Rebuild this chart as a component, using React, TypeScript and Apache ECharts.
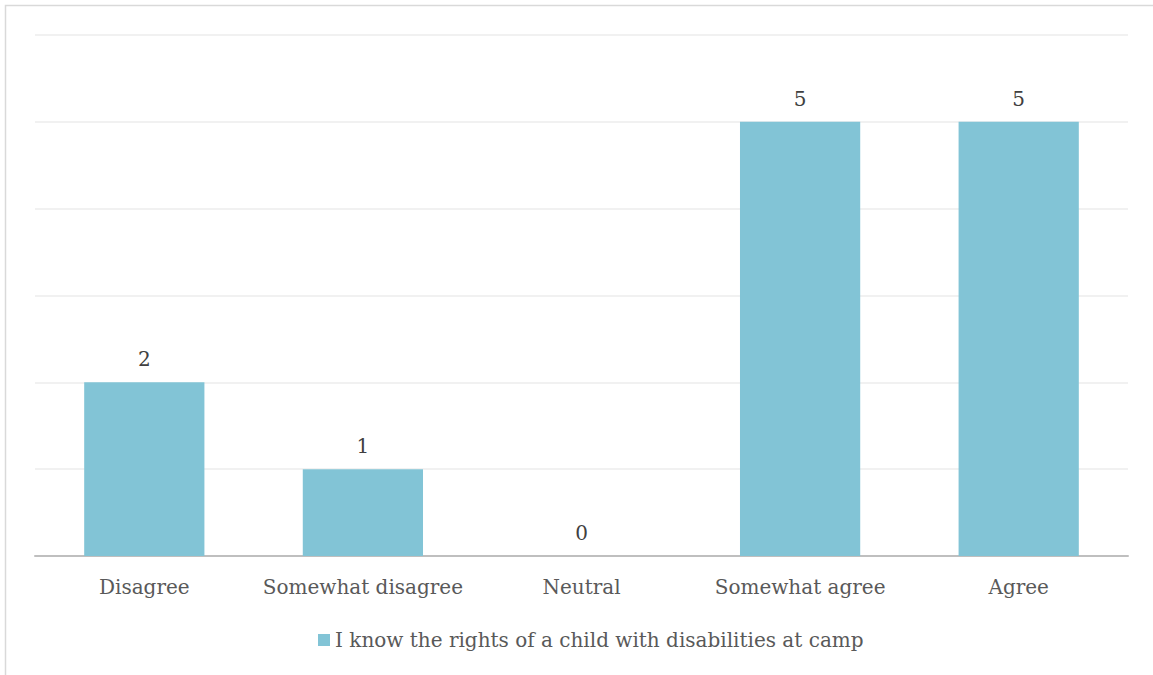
import React, { useEffect, useRef } from "react";
import * as echarts from "echarts";

const categories = ["Disagree", "Somewhat disagree", "Neutral", "Somewhat agree", "Agree"];
const values = [2, 1, 0, 5, 5];
const seriesName = "I know the rights of a child with disabilities at camp";

const FONT = "'DejaVu Serif', serif";

export default function App() {
  const ref = useRef<HTMLDivElement>(null);
  useEffect(() => {
    if (!ref.current) return;
    const chart = echarts.init(ref.current, null, { renderer: "svg" });
    chart.setOption({
      animation: false,
      backgroundColor: "#ffffff",
      textStyle: { fontFamily: FONT },
      graphic: [
        {
          type: "rect",
          shape: { x: 5.5, y: 5.5, width: 1200, height: 700 },
          style: { fill: "none", stroke: "#d9d9d9", lineWidth: 1.5 },
          silent: true,
        },
      ],
      grid: { left: 35, right: 25, top: 35, bottom: 119, containLabel: false },
      legend: {
        bottom: 20,
        left: 313,
        itemWidth: 12,
        itemHeight: 12,
        icon: "rect",
        itemGap: 6,
        textStyle: { color: "#595959", fontSize: 20, fontFamily: FONT },
        data: [seriesName],
      },
      xAxis: {
        type: "category",
        data: categories,
        axisLine: { lineStyle: { color: "#bfbfbf", width: 2 } },
        axisTick: { show: false },
        axisLabel: { color: "#595959", fontSize: 20, margin: 21, interval: 0, fontFamily: FONT },
      },
      yAxis: {
        type: "value",
        min: 0,
        max: 6,
        interval: 1,
        axisLabel: { show: false },
        axisLine: { show: false },
        axisTick: { show: false },
        splitLine: { lineStyle: { color: "#ececec", width: 1.5 } },
      },
      series: [
        {
          name: seriesName,
          type: "bar",
          data: values,
          barWidth: "55%",
          itemStyle: { color: "#82c4d6" },
          label: {
            show: true,
            position: "top",
            distance: 13,
            color: "#404040",
            fontSize: 20,
            fontFamily: FONT,
          },
        },
      ],
    });
    return () => chart.dispose();
  }, []);
  return (
    <div
      ref={ref}
      style={{ position: "fixed", left: 0, top: 0, width: 1153, height: 675 }}
    />
  );
}
